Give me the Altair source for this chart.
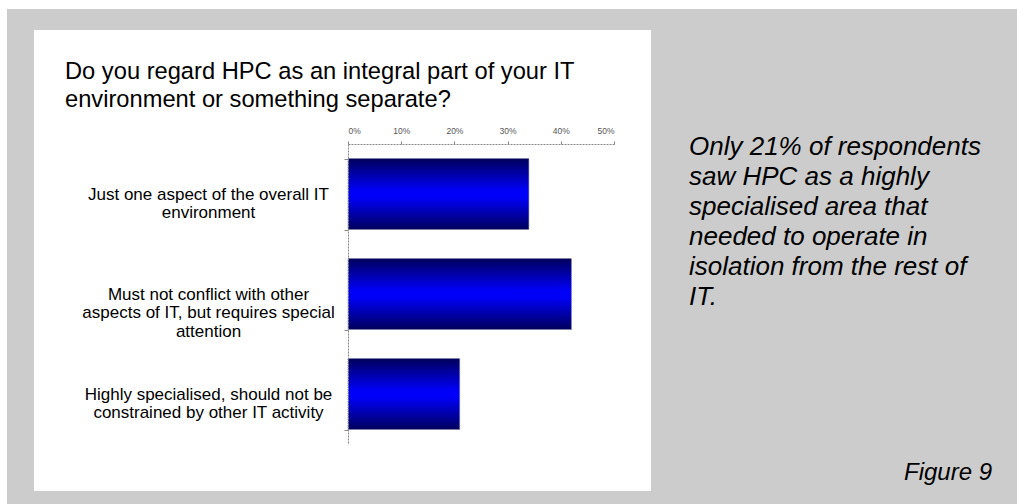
import altair as alt
import pandas as pd

# ---- data ----
categories = [
    "Just one aspect of the overall IT|environment",
    "Must not conflict with other|aspects of IT, but requires special|attention",
    "Highly specialised, should not be|constrained by other IT activity",
]
values = [0.34, 0.42, 0.21]
x_ticks = [0, 0.1, 0.2, 0.3, 0.4, 0.5]
title_lines = [
    "Do you regard HPC as an integral part of your IT",
    "environment or something separate?",
]
note_lines = [
    "Only 21% of respondents",
    "saw HPC as a highly",
    "specialised area that",
    "needed to operate in",
    "isolation from the rest of",
    "IT.",
]
figure_label = "Figure 9"

df = pd.DataFrame({"category": categories, "value": values})
one = pd.DataFrame({"k": [0]})

# layout (plot area origin inside the 1017x504 canvas)
PL, PT = 348, 144
W, H = 266, 300
FONT = "Liberation Sans"

gray_bg = alt.Chart(one).mark_rect(color="#cccccc").encode(
    x=alt.value(7 - PL), x2=alt.value(1017 - PL),
    y=alt.value(9 - PT), y2=alt.value(504 - PT),
)
white_panel = alt.Chart(one).mark_rect(color="#ffffff").encode(
    x=alt.value(34 - PL), x2=alt.value(651 - PL),
    y=alt.value(30 - PT), y2=alt.value(491 - PT),
)

title = alt.Chart(one).mark_text(
    text=title_lines, align="left", baseline="alphabetic",
    font=FONT, fontSize=23.7, lineHeight=28, color="#000000",
).encode(x=alt.value(65 - PL), y=alt.value(79 - PT))

note = alt.Chart(one).mark_text(
    text=note_lines, align="left", baseline="alphabetic",
    font=FONT, fontSize=26, fontStyle="italic", lineHeight=30, color="#000000",
).encode(x=alt.value(689 - PL), y=alt.value(155 - PT))

fig = alt.Chart(one).mark_text(
    text=figure_label, align="left", baseline="alphabetic",
    font=FONT, fontSize=24, fontStyle="italic", color="#000000",
).encode(x=alt.value(904 - PL), y=alt.value(480 - PT))

bar_fill = alt.Gradient(
    gradient="linear",
    stops=[
        alt.GradientStop(offset=0, color="#00005c"),
        alt.GradientStop(offset=0.45, color="#0000f8"),
        alt.GradientStop(offset=0.55, color="#0000f8"),
        alt.GradientStop(offset=1, color="#00005c"),
    ],
    x1=0, x2=0, y1=0, y2=1,
)

bars = alt.Chart(df).mark_bar(
    fill=bar_fill, stroke="#8080a0", strokeWidth=1, strokeDash=[1, 1],
).encode(
    x=alt.X(
        "value:Q",
        scale=alt.Scale(domain=[0, 0.5], nice=False),
        axis=alt.Axis(
            orient="top", values=x_ticks, format=".0%", title=None,
            grid=False, labelFont=FONT, labelFontSize=8.5, labelColor="#555555",
            labelPadding=6, tickSize=3, tickColor="#888888",
            domainColor="#888888", domainDash=[2, 1], domainWidth=1,
            zindex=2,
        ),
    ),
    y=alt.Y(
        "category:N",
        sort=categories,
        scale=alt.Scale(paddingInner=0.29, paddingOuter=0.145),
        axis=alt.Axis(
            title=None, labelExpr="split(datum.label, '|')",
            labelAlign="center", labelBaseline="middle",
            labelPadding=136, labelFont=FONT, labelFontSize=17,
            labelLineHeight=18.5, labelColor="#000000", labelLimit=400,
            tickBand="extent", tickSize=4, tickColor="#888888",
            domainColor="#888888", domainDash=[2, 1], domainWidth=1,
            zindex=2,
        ),
    ),
)

chart = alt.layer(gray_bg, white_panel, title, note, fig, bars).properties(
    width=W, height=H,
    padding={"left": PL, "top": PT, "right": 1017 - PL - W, "bottom": 504 - PT - H},
    autosize=alt.AutoSizeParams(type="none"),
    background="#ffffff",
).configure_view(stroke=None)

chart.save("out.html", embed_options={"renderer": "svg", "actions": False})
